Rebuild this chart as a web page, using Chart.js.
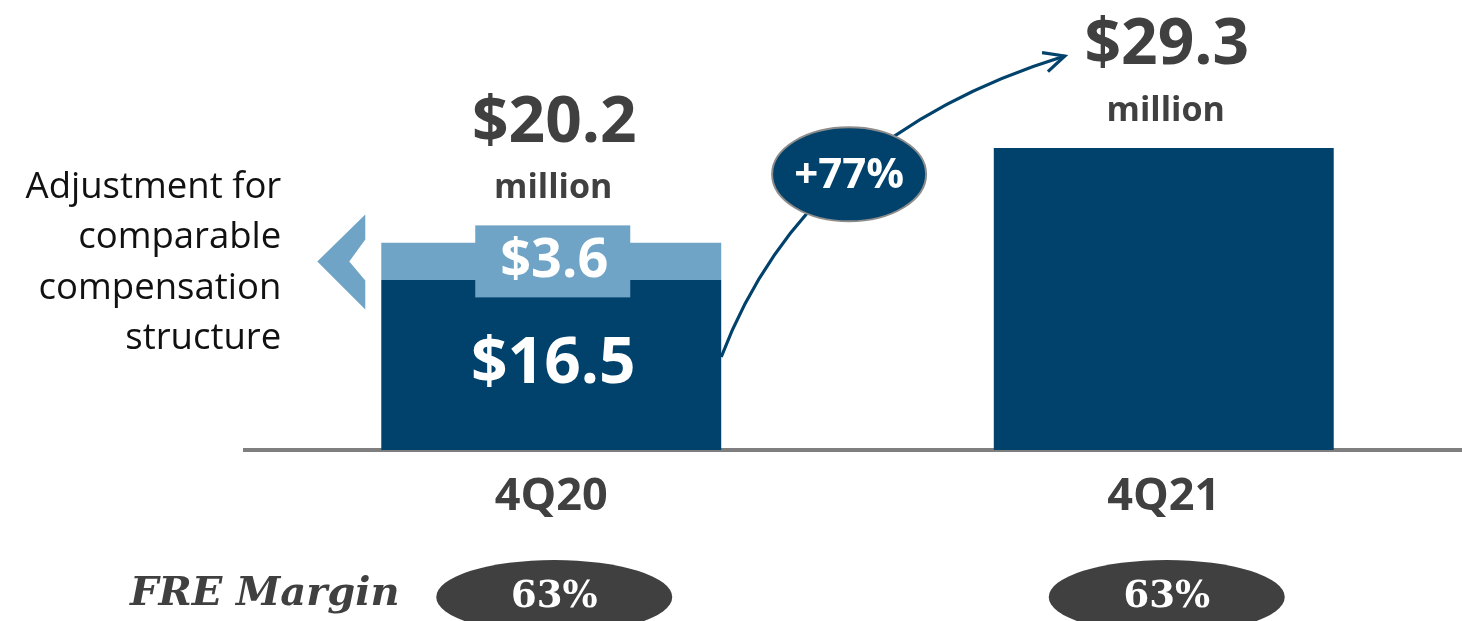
<!DOCTYPE html>
<html>
<head>
<meta charset="utf-8">
<script src="https://cdn.jsdelivr.net/npm/chart.js@4.4.1/dist/chart.umd.min.js"></script>
<style>
    html, body { margin: 0; padding: 0; background: #fff; overflow: hidden; }
    #wrap { width: 1470px; height: 621px; }
</style>
</head>
<body>
<div id="wrap"><canvas id="freChart"></canvas></div>
<script>
// dati del grafico
const quarters = ['4Q20', '4Q21'];
const baseFre = [16.5, 29.3];
const adjustment = [3.6, 0];
const totalLabels = ['$20.2', '$29.3'];
const baseLabels = ['$16.5', ''];
const adjustmentLabels = ['$3.6', ''];
const growthLabel = '+77%';
const freMargins = ['63%', '63%'];
const adjustmentNote = ['Adjustment for', 'comparable', 'compensation', 'structure'];
const marginTitle = 'FRE Margin';

const navy = '#00426b';
const lightBlue = '#6fa4c6';
const grey = '#404040';
const sans = "'Open Sans', sans-serif";
const serif = "'DejaVu Serif', serif";

function text(ctx, str, x, y, font, color, align) {
    ctx.font = font;
    ctx.fillStyle = color;
    ctx.textAlign = align || 'center';
    ctx.textBaseline = 'middle';
    ctx.fillText(str, x, y);
}

const overlayPlugin = {
    id: 'overlay',
    afterDraw(chart) {
        const ctx = chart.ctx;
        const bars = chart.getDatasetMeta(0).data;
        const adjBars = chart.getDatasetMeta(1).data;
        ctx.save();

        // barra 4Q20: fascia chiara con etichetta
        const b0 = bars[0];
        const a0 = adjBars[0];
        const half = b0.width / 2;
        const left0 = b0.x - half;
        const bandMid = (a0.y + a0.base) / 2;
        const boxTop = bandMid - 36;
        ctx.fillStyle = lightBlue;
        ctx.fillRect(b0.x - 76, boxTop, 155, 72);

        // freccia chiara a sinistra
        const rx = left0 - 16;
        ctx.beginPath();
        ctx.moveTo(rx, bandMid - 47);
        ctx.lineTo(rx - 48, bandMid);
        ctx.lineTo(rx, bandMid + 48);
        ctx.lineTo(rx, bandMid + 19);
        ctx.lineTo(rx - 16, bandMid);
        ctx.lineTo(rx, bandMid - 22);
        ctx.closePath();
        ctx.fill();

        text(ctx, adjustmentLabels[0], b0.x + 3, bandMid, 'bold 54px ' + sans, '#fff');
        text(ctx, baseLabels[0], b0.x + 2, (b0.y + b0.base) / 2, 'bold 64px ' + sans, '#fff');

        adjustmentNote.forEach((line, i) => {
            text(ctx, line, left0 - 100, bandMid - 74 + i * 50.5, '36.5px ' + sans, '#111', 'right');
        });

        // totali sopra le barre
        const tops = [Math.min(boxTop, a0.y), bars[1].y];
        const totalY = [];
        bars.forEach((bar, i) => {
            const millionY = tops[i] - 37;
            totalY.push(millionY - 65);
            text(ctx, 'million', bar.x + 2, millionY, 'bold 34px ' + sans, grey);
            text(ctx, totalLabels[i], bar.x + 3, millionY - 65, 'bold 64px ' + sans, grey);
        });

        // freccia curva di crescita
        const b1 = bars[1];
        const p0 = { x: left0 + b0.width, y: (b0.y + b0.base) / 2 - 8 };
        const p2 = { x: b1.x - b1.width / 2 + 71, y: totalY[1] + 10 };
        const c = { x: p0.x + 84, y: p2.y + 80 };
        ctx.strokeStyle = navy;
        ctx.lineWidth = 3.2;
        ctx.beginPath();
        ctx.moveTo(p0.x, p0.y);
        ctx.quadraticCurveTo(c.x, c.y, p2.x, p2.y);
        ctx.stroke();
        const ang = Math.atan2(p2.y - c.y, p2.x - c.x) + Math.PI;
        ctx.beginPath();
        ctx.moveTo(p2.x + 23 * Math.cos(ang - 0.45), p2.y + 23 * Math.sin(ang - 0.45));
        ctx.lineTo(p2.x, p2.y);
        ctx.lineTo(p2.x + 23 * Math.cos(ang + 0.45), p2.y + 23 * Math.sin(ang + 0.45));
        ctx.stroke();

        const mx = 0.25 * p0.x + 0.5 * c.x + 0.25 * p2.x;
        const my = 0.25 * p0.y + 0.5 * c.y + 0.25 * p2.y;
        ctx.beginPath();
        ctx.ellipse(mx, my + 3, 77, 47, 0, 0, Math.PI * 2);
        ctx.fillStyle = navy;
        ctx.fill();
        ctx.strokeStyle = '#8c8c8c';
        ctx.lineWidth = 2;
        ctx.stroke();
        text(ctx, growthLabel, mx, my + 5, 'bold 42px ' + sans, '#fff');

        // margini FRE in basso
        text(ctx, marginTitle, 130, 595, 'italic bold 40px ' + serif, grey, 'left');
        bars.forEach((bar, i) => {
            ctx.beginPath();
            ctx.ellipse(bar.x + 3, 597, 118, 37, 0, 0, Math.PI * 2);
            ctx.fillStyle = grey;
            ctx.fill();
            text(ctx, freMargins[i], bar.x + 3, 597, 'bold 37px ' + serif, '#fff');
        });

        ctx.restore();
    }
};

new Chart(document.getElementById('freChart'), {
    type: 'bar',
    data: {
        labels: quarters,
        datasets: [
            { label: 'FRE', data: baseFre, backgroundColor: navy },
            { label: 'Adjustment', data: adjustment, backgroundColor: lightBlue }
        ]
    },
    options: {
        responsive: true,
        maintainAspectRatio: false,
        animation: false,
        layout: { padding: { left: 245, right: 0, top: 0, bottom: 77 } },
        datasets: { bar: { barPercentage: 0.555, categoryPercentage: 1 } },
        plugins: { legend: { display: false }, tooltip: { enabled: false } },
        scales: {
            x: {
                stacked: true,
                grid: { display: false, drawTicks: false },
                border: { display: true, color: '#7f7f7f', width: 4 },
                ticks: { color: grey, padding: 20, font: { family: sans, size: 45, weight: 'bold' } }
            },
            y: {
                stacked: true,
                display: false,
                min: 0,
                max: 43.66
            }
        }
    },
    plugins: [overlayPlugin]
});
</script>
</body>
</html>
